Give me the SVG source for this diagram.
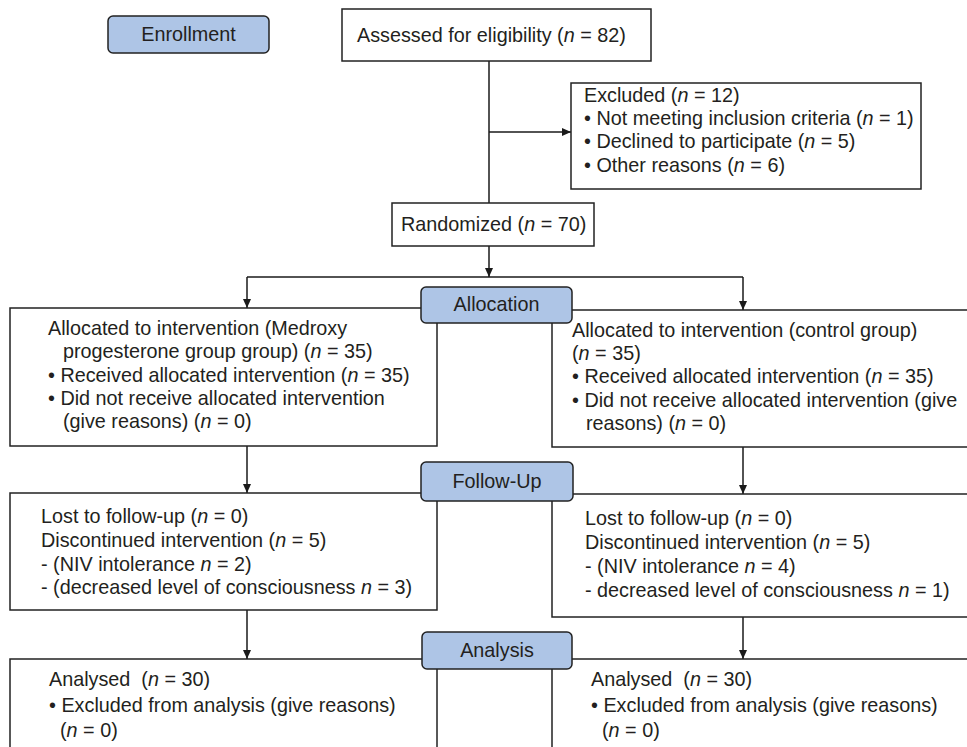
<svg xmlns="http://www.w3.org/2000/svg" width="967" height="747" viewBox="0 0 967 747">
<defs>
<marker id="arr" markerUnits="userSpaceOnUse" markerWidth="9" markerHeight="8" refX="9" refY="4" orient="auto">
<path d="M0,0 L9,4 L0,8 z" fill="#1a1a1a"/>
</marker>
<style>
text{font-family:"Liberation Sans",Arial,Helvetica,sans-serif;font-size:19.8px;fill:#231f20}
.box{fill:#fff;stroke:#222;stroke-width:1.5}
.lab{fill:#aec5e6;stroke:#222;stroke-width:1.5}
.c{text-anchor:middle}
.i{font-style:italic}
.con{fill:none;stroke:#1a1a1a;stroke-width:1.5}
</style>
</defs>
<rect width="967" height="747" fill="#fff"/>

<g id="connectors">
<path class="con" d="M489,61 V203"/>
<path class="con" d="M489,132 H571" marker-end="url(#arr)"/>
<path class="con" d="M489,246 V277" marker-end="url(#arr)"/>
<path class="con" d="M247,277 H743"/>
<path class="con" d="M247,277 V308" marker-end="url(#arr)"/>
<path class="con" d="M743,277 V310" marker-end="url(#arr)"/>
<path class="con" d="M247,446 V493" marker-end="url(#arr)"/>
<path class="con" d="M743,447 V494" marker-end="url(#arr)"/>
<path class="con" d="M247,610 V659" marker-end="url(#arr)"/>
<path class="con" d="M743,617 V659" marker-end="url(#arr)"/>
</g>

<g id="enrollment">
<rect class="lab" x="108" y="16" width="161" height="37" rx="5"/>
<text class="c" x="188.5" y="41">Enrollment</text>
</g>

<g id="assessed">
<rect class="box" x="342" y="9" width="309" height="52"/>
<text x="357" y="42">Assessed for eligibility (<tspan class="i">n</tspan> = 82)</text>
</g>

<g id="excluded">
<rect class="box" x="571" y="83" width="350" height="106"/>
<text x="584" y="102">Excluded (<tspan class="i">n</tspan> = 12)</text>
<text x="584" y="125">• Not meeting inclusion criteria (<tspan class="i">n</tspan> = 1)</text>
<text x="584" y="148">• Declined to participate (<tspan class="i">n</tspan> = 5)</text>
<text x="584" y="172">• Other reasons (<tspan class="i">n</tspan> = 6)</text>
</g>

<g id="randomized">
<rect class="box" x="392" y="203" width="202" height="43"/>
<text x="401" y="231">Randomized (<tspan class="i">n</tspan> = 70)</text>
</g>

<g id="alloc-left">
<rect class="box" x="10" y="308" width="427" height="138"/>
<text x="48" y="335">Allocated to intervention (Medroxy</text>
<text x="63" y="358">progesterone group group) (<tspan class="i">n</tspan> = 35)</text>
<text x="48" y="382">• Received allocated intervention (<tspan class="i">n</tspan> = 35)</text>
<text x="48" y="405">• Did not receive allocated intervention</text>
<text x="63" y="428">(give reasons) (<tspan class="i">n</tspan> = 0)</text>
</g>

<g id="alloc-right">
<rect class="box" x="552" y="310" width="430" height="137"/>
<text x="572" y="337">Allocated to intervention (control group)</text>
<text x="572" y="360">(<tspan class="i">n</tspan> = 35)</text>
<text x="572" y="383">• Received allocated intervention (<tspan class="i">n</tspan> = 35)</text>
<text x="572" y="407">• Did not receive allocated intervention (give</text>
<text x="586" y="430">reasons) (<tspan class="i">n</tspan> = 0)</text>
</g>

<g id="allocation">
<rect class="lab" x="421" y="287" width="151" height="36" rx="5"/>
<text class="c" x="496.5" y="311">Allocation</text>
</g>

<g id="follow-left">
<rect class="box" x="10" y="493" width="427" height="117"/>
<text x="41" y="523">Lost to follow-up (<tspan class="i">n</tspan> = 0)</text>
<text x="41" y="547">Discontinued intervention (<tspan class="i">n</tspan> = 5)</text>
<text x="41" y="571">- (NIV intolerance <tspan class="i">n</tspan> = 2)</text>
<text x="41" y="594">- (decreased level of consciousness <tspan class="i">n</tspan> = 3)</text>
</g>

<g id="follow-right">
<rect class="box" x="552" y="494" width="430" height="123"/>
<text x="585" y="525">Lost to follow-up (<tspan class="i">n</tspan> = 0)</text>
<text x="585" y="549">Discontinued intervention (<tspan class="i">n</tspan> = 5)</text>
<text x="585" y="573">- (NIV intolerance <tspan class="i">n</tspan> = 4)</text>
<text x="585" y="597">- decreased level of consciousness <tspan class="i">n</tspan> = 1)</text>
</g>

<g id="followup">
<rect class="lab" x="421" y="462" width="152" height="39" rx="5"/>
<text class="c" x="497" y="488">Follow-Up</text>
</g>

<g id="analysis-left">
<rect class="box" x="10" y="659" width="427" height="110"/>
<text x="49" y="686">Analysed&#160; (<tspan class="i">n</tspan> = 30)</text>
<text x="49" y="712">• Excluded from analysis (give reasons)</text>
<text x="60" y="737">(<tspan class="i">n</tspan> = 0)</text>
</g>

<g id="analysis-right">
<rect class="box" x="552" y="659" width="430" height="110"/>
<text x="591" y="686">Analysed&#160; (<tspan class="i">n</tspan> = 30)</text>
<text x="591" y="712">• Excluded from analysis (give reasons)</text>
<text x="602" y="737">(<tspan class="i">n</tspan> = 0)</text>
</g>

<g id="analysis">
<rect class="lab" x="422" y="632" width="150" height="37" rx="5"/>
<text class="c" x="497" y="657">Analysis</text>
</g>
</svg>
